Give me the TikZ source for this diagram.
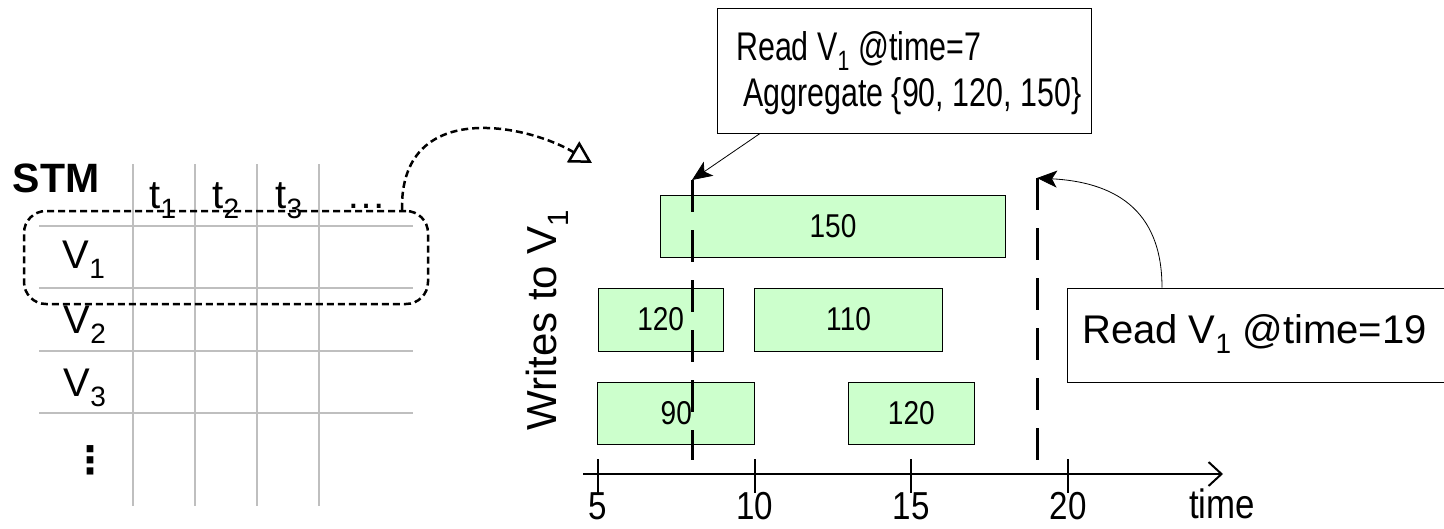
\documentclass[tikz,border=0pt]{standalone}
\usepackage{fontspec}
\setmainfont{Liberation Sans}
\newfontfamily\narrowfont[FakeStretch=0.76]{Liberation Sans}
\newfontfamily\tallfont[FakeStretch=0.85]{Liberation Sans}
\newfontfamily\symfont{DejaVu Sans}
\usetikzlibrary{arrows.meta}
\newcommand\fsz[1]{\fontsize{#1}{#1}\selectfont}
\definecolor{gridgray}{HTML}{BFBFBF}
\definecolor{wgreen}{HTML}{CCFFCC}
\begin{document}
\begin{tikzpicture}[x=1pt,y=-1pt,
  lbl/.style={inner sep=0pt, font=\fsz{40}},
  gridline/.style={draw=gridgray, line width=1.5pt},
  writebox/.style={draw=black, line width=1pt, fill=wgreen, inner sep=0pt, font=\fsz{33}\tallfont},
  readline/.style={line width=3pt, dash pattern=on 32pt off 18pt},
  callout/.style={draw=black, line width=1pt, inner sep=0pt},
  ptr/.style={line width=0.8pt, -{Stealth[length=20pt,width=17pt,inset=5pt]}},
  selbox/.style={draw=black, line width=2.5pt, dash pattern=on 7pt off 4pt, rounded corners=22pt, inner sep=0pt},
  selptr/.style={line width=2.5pt, dash pattern=on 7pt off 4pt, -{Triangle[open,length=22pt,width=24pt]}},
  axisline/.style={line width=2pt, -{Straight Barb[length=13pt,width=24pt]}},
  tickline/.style={line width=2pt}]
\useasboundingbox (0,0) rectangle (1444,528);

% ---- STM table ----
\foreach \x in {133,195,257,319} {\draw[gridline] (\x,164) -- (\x,506);}
\foreach \y in {226,288,351,413} {\draw[gridline] (39,\y) -- (413,\y);}
\node[lbl, font=\fsz{41}\bfseries, anchor=base] (stm) at (56,192) {STM};
\node[lbl, anchor=base] (t1) at (163,208) {t\textsubscript{1}};
\node[lbl, anchor=base] (t2) at (226,208) {t\textsubscript{2}};
\node[lbl, anchor=base] (t3) at (289,208) {t\textsubscript{3}};
\node[lbl, anchor=base] (tdots) at (366,208) {\dots};
\node[lbl, anchor=base] (v1) at (84,268) {V\textsubscript{1}};
\node[lbl, anchor=base] (v2) at (85,333) {V\textsubscript{2}};
\node[lbl, anchor=base] (v3) at (85,396) {V\textsubscript{3}};
\node[lbl, font=\fsz{38}\symfont\bfseries] (vdots) at (90,460) {⋮};
\node[selbox, minimum width=404pt, minimum height=93pt] (sel) at (226,257.5) {};
\coordinate (seltgt) at (592,163);
\draw[selptr] ([xshift=176pt]sel.north) .. controls +(-2,-110) and +(-68,-40) .. (seltgt);

% ---- timeline ----
\node[lbl, font=\fsz{42}, rotate=90] (writes) at (547,320) {Writes to V\textsubscript{1}};
\node[writebox, minimum width=344.6pt, minimum height=62pt] (w150) at (833,226) {150};
\node[writebox, minimum width=125.3pt, minimum height=63pt] (w120a) at (660.7,319.5) {120};
\node[writebox, minimum width=188pt, minimum height=63pt] (w110) at (848.6,319.5) {110};
\node[writebox, minimum width=156.7pt, minimum height=62pt] (w90) at (676.3,413) {90};
\node[writebox, minimum width=125.4pt, minimum height=62pt] (w120b) at (911.3,413) {120};

\coordinate (ax0) at (583,474);
\coordinate (ax1) at (1223,474);
\draw[axisline] (ax0) -- (ax1);
\foreach \t/\x in {5/598,10/754.7,15/911.3,20/1068} {
  \draw[tickline] (\x,459) -- (\x,493);
  \node[lbl, font=\fsz{39}\tallfont, anchor=base] (tk\t) at (\x,519) {\t};
}
\node[lbl, font=\fsz{41}\tallfont, anchor=base] (timelbl) at (1222,518) {time};

\coordinate (r1top) at (692,180);
\coordinate (r1bot) at (692,460);
\coordinate (r2top) at (1037,178);
\coordinate (r2bot) at (1037,460);
\draw[readline] (r1top) -- (r1bot);
\draw[readline] (r2top) -- (r2bot);

% ---- callouts ----
\node[callout, minimum width=374pt, minimum height=125pt] (callA) at (904,70.5) {};
\node[lbl, font=\fsz{40}\narrowfont, anchor=base west] (callAl1) at (736,60) {Read V\textsubscript{1} @time=7};
\node[lbl, font=\fsz{40}\narrowfont, anchor=base west] (callAl2) at (743,106) {Aggregate \{90, 120, 150\}};
\draw[ptr] ([xshift=-144pt]callA.south) -- (r1top);

\node[callout, minimum width=383pt, minimum height=94pt] (callB) at (1258.5,335) {};
\node[lbl, font=\fsz{40}, anchor=base west] (callBl) at (1082,343) {Read V\textsubscript{1} @time=19};
\draw[ptr] ([xshift=-96.5pt]callB.north) .. controls +(0,-80) and +(75,4) .. (r2top);
\end{tikzpicture}
\end{document}
